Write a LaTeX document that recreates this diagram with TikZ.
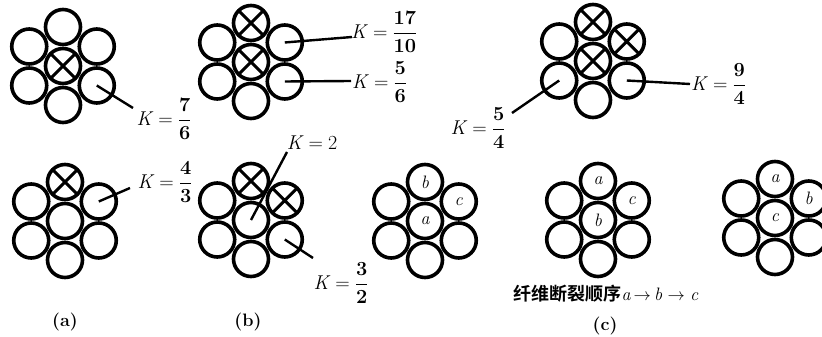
\documentclass[tikz,border=0pt]{standalone}
\usepackage{fontspec}
\newfontfamily\cjk{Noto Sans CJK SC Bold}
\usetikzlibrary{calc}
\tikzset{
  fib/.style={circle,draw,line width=3.6pt,minimum size=35pt,inner sep=0pt,outer sep=0pt},
  crossline/.style={line width=3pt},
  leader/.style={line width=2.4pt},
  klabel/.style={inner sep=1pt,font=\fontsize{20}{22}\selectfont},
  inl/.style={font=\fontsize{18}{20}\selectfont\itshape},
  captext/.style={font=\fontsize{18}{20}\selectfont\bfseries}
}
\newcommand\kval[1]{\textit{K}\hspace{0.25em}=\hspace{0.25em}#1}
\newcommand\kfrac[2]{$\displaystyle\frac{\mbox{\bfseries #1}}{\mbox{\bfseries #2}}$}
\newcommand\bundle[3]{%
  \node[fib] (#1c) at (#2,#3) {};
  \foreach \n/\a in {t/90,ur/30,lr/-30,b/-90,ll/-150,ul/150}
    \node[fib] (#1\n) at ($(#1c)+(\a:39)$) {};
}
\newcommand\crossit[1]{\draw[crossline] (#1.45)--(#1.225) (#1.135)--(#1.-45);}
\begin{document}
\begin{tikzpicture}[x=1pt,y=1pt]
\useasboundingbox (0,0) rectangle (822,337);
% bundles
\bundle{A}{63}{271}
\bundle{B}{251}{275}
\bundle{C}{593}{276}
\bundle{D}{65}{116}
\bundle{E}{251}{117}
\bundle{F}{425}{116}
\bundle{G}{598}{117}
\bundle{H}{775}{119}
% crosses
\crossit{Ac}
\crossit{Bt}\crossit{Bc}
\crossit{Ct}\crossit{Cc}\crossit{Cur}
\crossit{Dt}
\crossit{Et}\crossit{Eur}
% letters
\node[inl] at (Ft) {b}; \node[inl] at (Fur) {c}; \node[inl] at (Fc) {a};
\node[inl] at (Gt) {a}; \node[inl] at (Gur) {c}; \node[inl] at (Gc) {b};
\node[inl] at (Ht) {a}; \node[inl] at (Hur) {b}; \node[inl] at (Hc) {c};
% labels
\node[klabel] (k1) at (164,218) {\kval{\kfrac{7}{6}}};
\coordinate (e1) at (133,229);
\draw[leader] (Alr.center) -- (e1);
\node[klabel,anchor=west] (k2) at (350,305) {\kval{\kfrac{17}{10}}};
\coordinate (e2) at (352,300);
\draw[leader] (Bur.center) -- (e2);
\node[klabel,anchor=west] (k3) at (351,255) {\kval{\kfrac{5}{6}}};
\coordinate (e3) at (351,256);
\draw[leader] (Blr.center) -- (e3);
\node[klabel,anchor=west] (k4) at (690,253) {\kval{\kfrac{9}{4}}};
\coordinate (e4) at (690,253);
\draw[leader] (Clr.center) -- (e4);
\node[klabel] (k5) at (478,209) {\kval{\kfrac{5}{4}}};
\coordinate (e5) at (512,224);
\draw[leader] (Cll.center) -- (e5);
\node[klabel] (k6) at (165,155) {\kval{\kfrac{4}{3}}};
\coordinate (e6) at (130,149);
\draw[leader] (Dur.center) -- (e6);
\node[klabel] (k7) at (312,194) {\kval{2}};
\coordinate (e7) at (287,185);
\draw[leader] (Ec.center) -- (e7);
\node[klabel] (k8) at (341,54) {\kval{\kfrac{3}{2}}};
\coordinate (e8) at (313,79);
\draw[leader] (Elr.center) -- (e8);
% captions
\node[captext] (ca) at (65,15) {(a)};
\node[captext] (cb) at (248,15) {(b)};
\node[captext] (cc) at (605,11) {(c)};
\node[font=\fontsize{18}{20}\selectfont] (seq) at (606,43) {{\cjk 纤维断裂顺序}\textit{a}\,$\rightarrow$\,\textit{b}\hspace{0.3em}$\rightarrow$\hspace{0.3em}\textit{c}};
\end{tikzpicture}
\end{document}
